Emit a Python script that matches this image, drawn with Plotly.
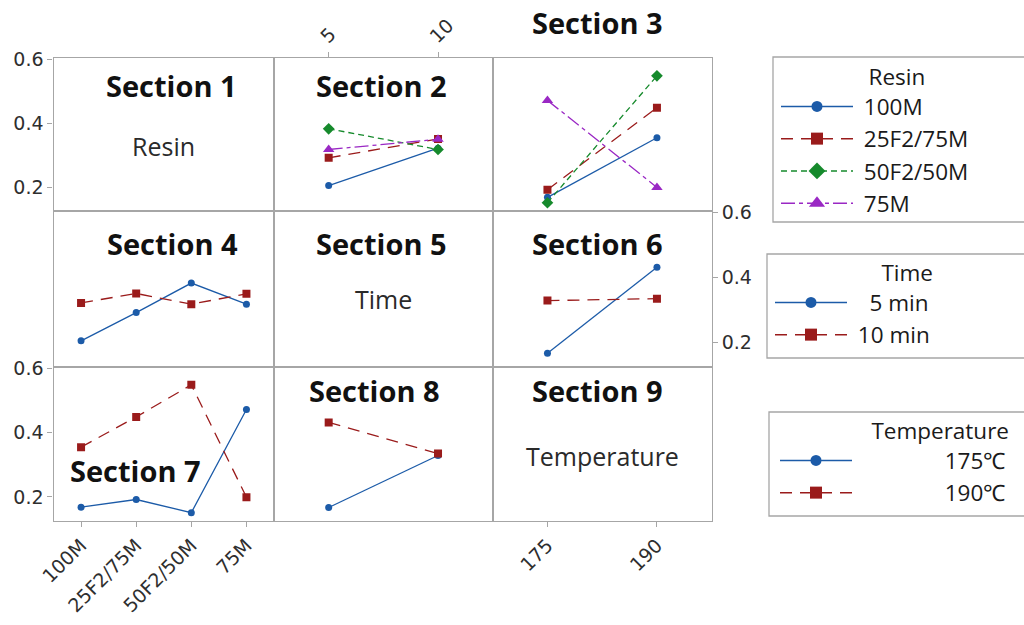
import plotly.graph_objects as go

# ---------------- data ----------------
resins = ["100M", "25F2/75M", "50F2/50M", "75M"]
times = [5, 10]
temps = [175, 190]
time_names = ["5 min", "10 min"]
temp_names = ["175\u2103", "190\u2103"]

# mean response for each resin at each time
resin_time_5min = [0.205, 0.292, 0.383, 0.318]
resin_time_10min = [0.322, 0.351, 0.318, 0.350]
# mean response for each resin at each temperature
resin_temp_175 = [0.168, 0.192, 0.151, 0.472]
resin_temp_190 = [0.355, 0.449, 0.549, 0.199]
# mean response for each time (5, 10) at each temperature
time_temp_175 = [0.167, 0.329]
time_temp_190 = [0.432, 0.335]

y_ticks = [0.2, 0.4, 0.6]
y_range = [0.126, 0.606]

# ---------------- styles ----------------
W, H = 1024, 625
FONT = "Open Sans"
TFONT = "DejaVu Sans"
colors = ["#1c5ba8", "#9a1b1b", "#168a2c", "#9a28c4"]
dashes = ["solid", "12px,8px", "6px,4px", "14px,4px,4px,4px"]
symbols = ["circle", "square", "diamond", "triangle-up"]
msizes = [7, 8, 9, 10]
AX = "#a6a6a6"
NB = "\u00a0"

def px(x):
    return x / W

def py(y):
    return 1 - y / H

col_edges = [53.5, 274, 492.7, 711.7]
row_edges = [57.7, 210.7, 366.5, 520.7]

fig = go.Figure()

def axname(k):
    return "" if k == 1 else str(k)

def add_series(k, x, y, i):
    ax = axname(k)
    fig.add_trace(go.Scatter(
        x=x, y=y, mode="lines+markers",
        xaxis="x" + ax, yaxis="y" + ax,
        line=dict(color=colors[i], width=1.3, dash=dashes[i]),
        marker=dict(symbol=symbols[i], size=msizes[i], color=colors[i]),
        showlegend=False, hoverinfo="x+y",
    ))

# Section 2: x = time, series = resin
for i in range(4):
    add_series(2, times, [resin_time_5min[i], resin_time_10min[i]], i)
# Section 3: x = temperature, series = resin
for i in range(4):
    add_series(3, temps, [resin_temp_175[i], resin_temp_190[i]], i)
# Section 4: x = resin, series = time
add_series(4, resins, resin_time_5min, 0)
add_series(4, resins, resin_time_10min, 1)
# Section 6: x = temperature, series = time
for j in range(2):
    add_series(6, temps, [time_temp_175[j], time_temp_190[j]], j)
# Section 7: x = resin, series = temperature
add_series(7, resins, resin_temp_175, 0)
add_series(7, resins, resin_temp_190, 1)
# Section 8: x = time, series = temperature
add_series(8, times, time_temp_175, 0)
add_series(8, times, time_temp_190, 1)

# empty label cells still need their axes drawn
for k in (5, 9):
    ax = axname(k)
    fig.add_trace(go.Scatter(x=[None], y=[None], xaxis="x" + ax, yaxis="y" + ax,
                             mode="markers", showlegend=False, hoverinfo="skip"))

# legend entries
def legend_entry(name, i, leg):
    fig.add_trace(go.Scatter(
        x=[None], y=[None], mode="lines+markers", name=name, legend=leg,
        line=dict(color=colors[i], width=1.5, dash=dashes[i]),
        marker=dict(symbol=symbols[i], size=msizes[i] + 4, color=colors[i]),
        showlegend=True,
    ))

for i, r in enumerate(resins):
    legend_entry(NB + r, i, "legend")
for j, t in enumerate(time_names):
    pad = NB * 3 if j == 0 else NB
    legend_entry(pad + t, j, "legend2")
for j, t in enumerate(temp_names):
    legend_entry(NB * 15 + t, j, "legend3")

# ---------------- axes ----------------
layout = dict(
    width=W, height=H, autosize=False,
    margin=dict(l=0, r=0, t=0, b=0, autoexpand=False),
    paper_bgcolor="white", plot_bgcolor="white",
    font=dict(family=FONT, color="#333333"),
)

tickfont = dict(family=TFONT, size=19, color="#2e2e2e")
for r in range(3):
    for c in range(3):
        k = r * 3 + c + 1
        ax = axname(k)
        xa = dict(
            domain=[px(col_edges[c]), px(col_edges[c + 1])],
            anchor="y" + ax, showline=True, mirror=True, linecolor=AX, linewidth=1.3,
            showgrid=False, zeroline=False, fixedrange=True, automargin=False,
            ticks="", showticklabels=False, tickfont=tickfont,
            ticklen=5, tickcolor=AX, tickwidth=1,
        )
        if c == 0:
            xa.update(type="category", categoryorder="array", categoryarray=resins,
                      range=[-0.5, 3.5])
        elif c == 1:
            xa.update(type="linear", range=[2.5, 12.5], tickvals=times)
        else:
            xa.update(type="linear", range=[167.5, 197.5], tickvals=temps)
        if k in (7, 9):
            xa.update(ticks="outside", showticklabels=True, tickangle=-45)
        if k == 2:
            xa.update(side="top", ticks="outside", showticklabels=True, tickangle=-45,
                      ticklabelshift=-7, ticklabelstandoff=-3)
        ya = dict(
            domain=[py(row_edges[r + 1]), py(row_edges[r])],
            anchor="x" + ax, showline=True, mirror=True, linecolor=AX, linewidth=1.3,
            showgrid=False, zeroline=False, fixedrange=True, automargin=False, range=y_range,
            tickvals=y_ticks, ticktext=["0.2", "0.4", "0.6"],
            ticks="", showticklabels=False, tickfont=tickfont,
            ticklen=5, tickcolor=AX, tickwidth=1,
        )
        if k in (1, 7):
            ya.update(ticks="outside", showticklabels=True)
        if k == 6:
            ya.update(side="right", ticks="outside", showticklabels=True)
        layout["xaxis" + ax] = xa
        layout["yaxis" + ax] = ya

# ---------------- annotations ----------------
annots = []
sec_pos = [(171, 85), (381, 85), (597, 22), (172, 243), (381, 243), (597, 243),
           (135, 470), (374, 390), (597, 390)]
for n, (x, y) in enumerate(sec_pos, start=1):
    annots.append(dict(text="Section %d" % n, x=px(x), y=py(y), xref="paper", yref="paper",
                       showarrow=False, xanchor="center", yanchor="middle",
                       font=dict(family=FONT, size=29, color="#111111", weight="bold")))
for txt, x, y in [("Resin", 163, 146), ("Time", 383, 299), ("Temperature", 602, 456)]:
    annots.append(dict(text=txt, x=px(x), y=py(y), xref="paper", yref="paper",
                       showarrow=False, xanchor="center", yanchor="middle",
                       font=dict(family=FONT, size=25, color="#2a2a2a")))
layout["annotations"] = annots

# legend boxes
shapes = []
for x0, y0, y1 in [(773, 57, 222), (767, 254, 358), (769, 412, 516)]:
    shapes.append(dict(type="rect", xref="paper", yref="paper",
                       x0=px(x0), x1=px(1040), y0=py(y1), y1=py(y0),
                       line=dict(color=AX, width=1.3), fillcolor="rgba(0,0,0,0)"))
layout["shapes"] = shapes

legfont = dict(family=FONT, size=22.5, color="#1a1a1a")
common = dict(xanchor="left", yanchor="top", bgcolor="rgba(0,0,0,0)", borderwidth=0,
              font=legfont, itemwidth=72, itemclick=False, itemdoubleclick=False)
layout["legend"] = dict(x=px(776), y=py(56),
                        title=dict(text="Resin" + NB * 8, side="top right", font=legfont), **common)
layout["legend2"] = dict(x=px(770), y=py(252),
                         title=dict(text="Time", side="top right", font=legfont), **common)
layout["legend3"] = dict(x=px(775), y=py(410),
                         title=dict(text="Temperature", side="top right", font=legfont), **common)

fig.update_layout(**layout)
fig.write_html("out.html")
